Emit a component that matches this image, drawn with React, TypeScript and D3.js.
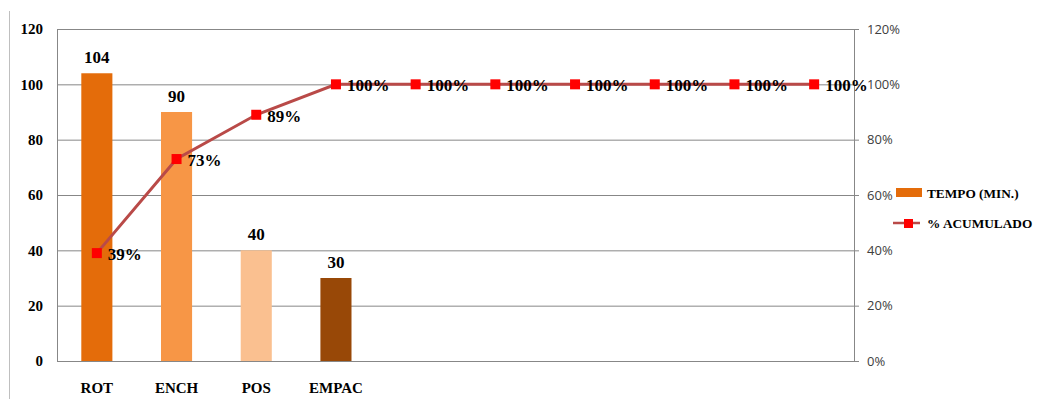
import React from "react";
import * as d3 from "d3";

const categories = ["ROT", "ENCH", "POS", "EMPAC", "", "", "", "", "", ""];
const tempo: (number | null)[] = [104, 90, 40, 30, null, null, null, null, null, null];
const acumulado = [39, 73, 89, 100, 100, 100, 100, 100, 100, 100];
const barColors = ["#E46C0A", "#F79646", "#FAC090", "#984807"];
const leftTicks = [0, 20, 40, 60, 80, 100, 120];
const rightTicks = [0, 20, 40, 60, 80, 100, 120];

const W = 1038, H = 399;
const left = 57, right = 854, top = 29, bottom = 361;
const serif = "Liberation Serif, DejaVu Serif, serif";
const sans = "Open Sans, Liberation Sans, sans-serif";

export default function App() {
  const idx = categories.map((_, i) => String(i));
  const x = d3.scaleBand().domain(idx).range([left, right]).paddingInner(0.61).paddingOuter(0.305);
  const xc = (i: number) => (x(String(i)) as number) + x.bandwidth() / 2;
  const y = d3.scaleLinear().domain([0, 120]).range([bottom, top]);
  const y2 = d3.scaleLinear().domain([0, 120]).range([bottom, top]);
  const line = d3.line<number>().x((_, i) => xc(i)).y((d) => y2(d));

  return (
    <svg width={W} height={H} style={{ position: "absolute", left: 0, top: 0, background: "#fff" }}>
      <line x1={9.5} x2={9.5} y1={11} y2={H} stroke="#bfbfbf" />
      {leftTicks.map((t) => (
        <g key={t}>
          <line x1={left} x2={right} y1={y(t) + 0.5} y2={y(t) + 0.5} stroke="#878787" strokeWidth={1} />
          <text x={43} y={y(t)} dy="0.35em" textAnchor="end" style={{ fontFamily: serif }} fontWeight="bold" fontSize={15} fill="#000">{t}</text>
        </g>
      ))}
      <line x1={left + 0.5} x2={left + 0.5} y1={top} y2={bottom} stroke="#878787" />
      <line x1={right + 0.5} x2={right + 0.5} y1={top} y2={bottom} stroke="#878787" />
      {rightTicks.map((t) => (
        <g key={"r" + t}>
          <line x1={right} x2={right + 5} y1={y2(t) + 0.5} y2={y2(t) + 0.5} stroke="#878787" />
          <text x={867} y={y2(t)} dy="0.35em" style={{ fontFamily: sans }} fontSize={13} fill="#404040">{t}%</text>
        </g>
      ))}
      {tempo.map((v, i) =>
        v == null ? null : (
          <g key={"b" + i}>
            <rect x={x(String(i))} y={y(v)} width={x.bandwidth()} height={bottom - y(v)} fill={barColors[i]} />
            <text x={xc(i)} y={y(v) - 10} textAnchor="middle" style={{ fontFamily: serif }} fontWeight="bold" fontSize={17} fill="#000">{v}</text>
          </g>
        )
      )}
      <path d={line(acumulado) as string} fill="none" stroke="#B94A48" strokeWidth={3} />
      {acumulado.map((v, i) => (
        <g key={"p" + i}>
          <rect x={xc(i) - 5} y={y2(v) - 5} width={10} height={10} fill="#FF0000" />
          <text x={xc(i) + 11} y={y2(v)} dy="0.4em" style={{ fontFamily: serif }} fontWeight="bold" fontSize={17} fill="#000">{v}%</text>
        </g>
      ))}
      {categories.map((c, i) =>
        c ? (
          <text key={"c" + i} x={xc(i)} y={393} textAnchor="middle" style={{ fontFamily: serif }} fontWeight="bold" fontSize={15} fill="#000">{c}</text>
        ) : null
      )}
      <g>
        <rect x={896} y={188} width={26} height={9} fill={barColors[0]} />
        <text x={927} y={193} dy="0.35em" style={{ fontFamily: serif }} fontWeight="bold" fontSize={13.3} fill="#000">TEMPO (MIN.)</text>
        <line x1={893} x2={920} y1={223} y2={223} stroke="#B94A48" strokeWidth={2.5} />
        <rect x={904} y={219} width={9} height={9} fill="#FF0000" />
        <text x={927} y={223} dy="0.35em" style={{ fontFamily: serif }} fontWeight="bold" fontSize={13.3} fill="#000">% ACUMULADO</text>
      </g>
    </svg>
  );
}
